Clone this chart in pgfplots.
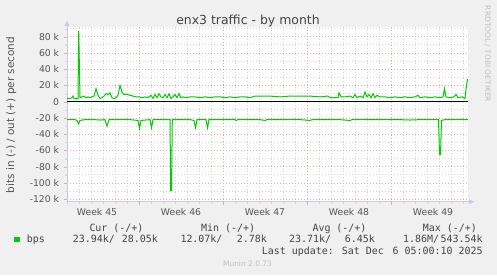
\documentclass[border=0pt]{standalone}
\usepackage{pgfplots}
\pgfplotsset{compat=1.18}
\usepackage{fontspec}
\setmainfont{DejaVu Sans}
\newfontfamily\monofont{DejaVu Sans Mono}
\usetikzlibrary{arrows.meta}
\definecolor{bg}{HTML}{F0F0F0}
\definecolor{munigreen}{HTML}{00CC00}
\definecolor{majgrid}{HTML}{E8A8A8}
\definecolor{mingrid}{HTML}{D4D4D4}
\definecolor{axcol}{HTML}{C8C8F0}
\definecolor{txt}{HTML}{555555}
\definecolor{ttl}{HTML}{444444}
\definecolor{faint}{HTML}{C0C0C0}

\pgfplotstableread{
px val
67 4
70 4
72 5
73 7
74 4
78 4
78.7 87
80 5
82 6
84 7
86 5
88 6
90 5
92 6
94 7
96 16
98 8
100 4
102 5
104 7
106 10
108 9
110 11
112 5
114 4
116 5
118 8
120 20
122 12
124 9
127 9
130 8
133 7
136 6
139 6
142 5
145 6
148 5
151 8
153 4
155 9
157 5
159 10
161 6
163 5
165 9
167 5
169 10
171 4
173 6
175 9
177 5
179 10
181 5
183 6
186 5
190 6
195 6
200 5
205 6
210 5
215 6
220 6
225 5
230 6
235 5
240 6
245 6
250 5
255 7
260 7
270 7
280 6
290 7
300 7
310 7
320 6
328 7
330 5
338 5
339 11
341 6
345 6
350 7
353 5
355 9
357 5
360 7
363 5
365 12
367 6
369 9
371 5
373 10
375 5
377 8
380 6
385 6
390 5
395 6
400 5
405 6
410 5
415 6
418 8
420 5
425 6
430 5
435 6
440 5
443 6
444.5 16
446 6
450 5
454 6
456 9
458 5
462 6
465 4
466 15
467.5 28
}\outdata

\pgfplotstableread{
px val
67 -22
75 -22
77 -23
78.5 -27
80 -23
85 -22
95 -22
100 -22.5
105 -22
107 -30
109 -22
120 -22
130 -22
138 -23
139.5 -33
141 -23
150 -22
151.5 -32
153 -22
160 -22
170 -22
170.7 -109
171.5 -109
172.3 -22
180 -22
190 -22
194 -23
195.5 -32
197 -22
206 -22
207.5 -32
209 -22
220 -22
235 -22
236 -23
238 -22
260 -22
265 -23
267 -22
300 -22
310 -23
312 -22
340 -22
350 -23
352 -22
380 -22
400 -22
410 -22.5
420 -22
438.5 -22
439.5 -65
440.5 -65
441.5 -23
445 -22
465 -22
468 -22
}\indata

\begin{document}
\begin{tikzpicture}[x=1bp,y=1bp]
\fill[bg] (0,0) rectangle (497,275);
\begin{axis}[
  at={(67bp,73.3bp)}, anchor=south west, scale only axis,
  width=401bp, height=174.7bp,
  xmin=67, xmax=468, ymin=-123, ymax=92,
  axis background/.style={fill=white},
  axis x line=bottom, axis y line=left,
  axis line style={draw=axcol, line width=0.8bp, -{Triangle[width=5bp,length=5bp]}, shorten >=-6bp},
  tick align=outside,
  xtick={97,181,265,349,433},
  xticklabels={Week 45,Week 46,Week 47,Week 48,Week 49},
  major x tick style={draw=none},
  minor xtick={67,79,...,463},
  minor x tick style={draw=mingrid},
  xminorgrids=true, xmajorgrids=false,
  extra x ticks={139,223,307,391},
  extra x tick labels={},
  extra x tick style={xmajorgrids=true, major x tick style={draw=majgrid, line width=0.8bp}},
  ytick={-120,-100,...,80},
  yticklabels={-120 k,-100 k,-80 k,-60 k,-40 k,-20 k,0,20 k,40 k,60 k,80 k},
  minor ytick={-110,-90,...,90},
  ymajorgrids=true, yminorgrids=true,
  major y tick style={draw=majgrid},
  minor y tick style={draw=mingrid},
  major tick length=3bp, minor tick length=2bp,
  major grid style={majgrid, line width=0.8bp, dash pattern=on 1bp off 2bp},
  minor grid style={mingrid, line width=0.8bp, dash pattern=on 1bp off 2bp},
  ticklabel style={font=\fontsize{9.3}{11}\selectfont, text=txt},
  yticklabel style={anchor=east, inner sep=0pt, xshift=-4.7bp},
  xticklabel style={anchor=base, inner sep=0pt, yshift=-11bp},
  clip=true,
]
\addplot[munigreen, line width=1bp] table[x=px, y=val] {\outdata};
\addplot[munigreen, line width=1bp] table[x=px, y=val] {\indata};
\addplot[black, line width=1.2bp] coordinates {(67,0) (468,0)};
\end{axis}
% title
\node[anchor=base, inner sep=0, text=ttl, font=\fontsize{12.5}{14}\selectfont] at (248,251) {enx3 traffic - by month};
% y label
\node[rotate=90, anchor=base, inner sep=0, text=txt, font=\fontsize{10.5}{12}\selectfont] at (14,160) {bits in (-) / out (+) per second};
% rrdtool
\node[rotate=-90, anchor=center, inner sep=0, text=faint, font=\fontsize{7.5}{9}\selectfont] at (487.5,221) {RRDTOOL / TOBI OETIKER};
% legend
\begin{scope}[every node/.style={inner sep=0, text=ttl, font=\monofont\fontsize{10}{12}\selectfont}]
\node[anchor=base west] at (89.3,44) {Cur (-/+)};
\node[anchor=base west] at (201,44) {Min (-/+)};
\node[anchor=base west] at (312.3,44) {Avg (-/+)};
\node[anchor=base west] at (422.7,44) {Max (-/+)};
\fill[munigreen] (14,32.7) rectangle (19.5,38.3);
\node[anchor=base west] at (26.7,32.7) {bps};
\node[anchor=base west] at (72.7,32.7) {23.94k/};
\node[anchor=base east] at (158,32.7) {28.05k};
\node[anchor=base west] at (180.3,32.7) {12.07k/};
\node[anchor=base east] at (267,32.7) {2.78k};
\node[anchor=base west] at (289,32.7) {23.71k/};
\node[anchor=base east] at (375,32.7) {6.45k};
\node[anchor=base west] at (403,32.7) {1.86M/};
\node[anchor=base east] at (482.7,32.7) {543.54k};
\node[anchor=base west] at (261.7,21) {Last update: Sat Dec};
\node[anchor=base east] at (482.7,21) {6 05:00:10 2025};
\end{scope}
\node[anchor=base, inner sep=0, text=faint, font=\fontsize{7.5}{9}\selectfont] at (247.5,8.5) {Munin 2.0.73};
\end{tikzpicture}
\end{document}
